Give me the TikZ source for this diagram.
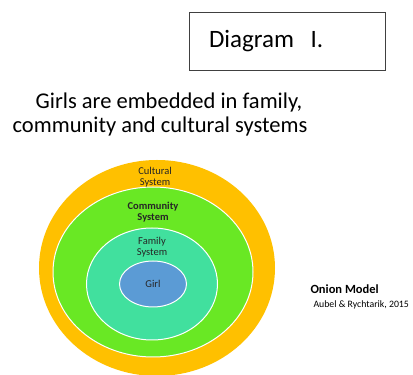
\documentclass[tikz,border=0pt]{standalone}
\usepackage{fontspec}
\setmainfont{Carlito}
\usetikzlibrary{shapes.geometric,positioning}

\definecolor{cultural}{HTML}{FFC000}
\definecolor{community}{HTML}{69E824}
\definecolor{family}{HTML}{41E09E}
\definecolor{girl}{HTML}{5B9BD5}

\begin{document}
\begin{tikzpicture}[
    x=1pt,y=1pt,
    ring/.style={ellipse,draw=white,line width=1pt,inner sep=0pt},
    label/.style={align=center,font=\fontsize{10.5}{10.5}\selectfont,text=black!85},
    box/.style={rectangle,draw=black!75,line width=0.8pt,minimum width=196,minimum height=58,inner xsep=20,text width=156,align=left}
]
    \useasboundingbox (0,0) rectangle (413,375);

    % the title box and heading
    \node[box,font=\fontsize{25}{28}\selectfont] (diagram) at (287,334) {Diagram~~I.};
    \node[align=center,font=\fontsize{22.5}{24}\selectfont] (heading) at (160,260) {\hspace*{18pt}Girls are embedded in family,\\community and cultural systems};

    % the rings, outermost first
    \node[ring,draw=none,fill=cultural,minimum width=236,minimum height=216] (cultural) at (157,107) {};
    \node[ring,fill=community,minimum width=200,minimum height=170] (community) at (153,103) {};
    \node[ring,fill=family,minimum width=131,minimum height=112] (family) at (152,91) {};
    \node[ring,fill=girl,minimum width=67,minimum height=46] (girl) at (153,91) {};

    \node[label] (culturallbl) at (155,198) {Cultural\\System};
    \node[label,font=\fontsize{10.5}{10.5}\selectfont\bfseries] (communitylbl) at (153,163) {Community\\System};
    \node[label] (familylbl) at (152,128) {Family\\System};
    \node[label] (girllbl) at (girl) {Girl};

    % the caption
    \node[anchor=west,font=\fontsize{12.5}{14}\selectfont\bfseries] (onion) at (307,86) {Onion Model};
    \node[anchor=west,font=\fontsize{9.8}{11}\selectfont] (source) at (310,70) {Aubel \& Rychtarik, 2015};
\end{tikzpicture}
\end{document}
